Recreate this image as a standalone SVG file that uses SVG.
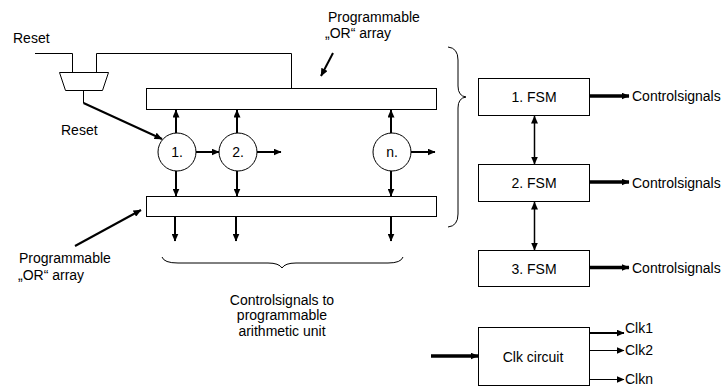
<svg xmlns="http://www.w3.org/2000/svg" width="724" height="390" viewBox="0 0 724 390">
  <style>
    text { font-family: "Liberation Sans", Arial, sans-serif; font-size: 14px; fill: #000; }
    .mid { text-anchor: middle; }
    .box { fill: #fff; stroke: #000; stroke-width: 1; }
    .wire { fill: none; stroke: #000; stroke-width: 1; }
    .arr { fill: none; stroke: #000; stroke-width: 2; marker-end: url(#ah); }
    .arr1 { fill: none; stroke: #000; stroke-width: 1; marker-end: url(#ah); }
    .thick { fill: none; stroke: #000; stroke-width: 3.5; marker-end: url(#ah); }
    .dbl { fill: none; stroke: #000; stroke-width: 1.5; marker-start: url(#ah); marker-end: url(#ah); }
    .brace { fill: none; stroke: #000; stroke-width: 1; }
  </style>
  <defs>
    <marker id="ah" markerUnits="userSpaceOnUse" markerWidth="8" markerHeight="7" refX="7.5" refY="3.5" orient="auto-start-reverse">
      <path d="M0,0 L8,3.5 L0,7 z" fill="#000"/>
    </marker>
  </defs>

  <rect width="724" height="390" fill="#fff"/>

  <!-- reset multiplexer -->
  <g id="mux">
    <polygon class="box" points="59.5,72.5 108.5,72.5 102.5,90.5 65.5,90.5"/>
  </g>

  <!-- programmable OR arrays -->
  <g id="or-array-top">
    <rect class="box" x="146.5" y="88.5" width="290" height="21"/>
  </g>
  <g id="or-array-bottom">
    <rect class="box" x="146.5" y="196.5" width="290" height="20"/>
  </g>

  <!-- state circles -->
  <g id="state-1">
    <circle class="box" cx="177" cy="152" r="19"/>
    <text class="mid" x="177" y="157">1.</text>
  </g>
  <g id="state-2">
    <circle class="box" cx="238" cy="152" r="19"/>
    <text class="mid" x="238" y="157">2.</text>
  </g>
  <g id="state-n">
    <circle class="box" cx="392" cy="152" r="19"/>
    <text class="mid" x="392" y="157">n.</text>
  </g>

  <!-- FSM blocks -->
  <g id="fsm-1">
    <rect class="box" x="478.5" y="78.5" width="111" height="37"/>
    <text class="mid" x="534" y="102">1. FSM</text>
  </g>
  <g id="fsm-2">
    <rect class="box" x="478.5" y="164.5" width="111" height="37"/>
    <text class="mid" x="534" y="188">2. FSM</text>
  </g>
  <g id="fsm-3">
    <rect class="box" x="478.5" y="250.5" width="111" height="36"/>
    <text class="mid" x="534" y="274">3. FSM</text>
  </g>

  <!-- clock generator -->
  <g id="clk-circuit">
    <rect class="box" x="478.5" y="327.5" width="111" height="58"/>
    <text class="mid" x="533" y="362">Clk circuit</text>
  </g>

  <!-- labels -->
  <g id="labels">
    <text x="13" y="43">Reset</text>
    <text x="61" y="135">Reset</text>
    <text x="328" y="22">Programmable</text>
    <text x="325" y="38">„OR“ array</text>
    <text x="19" y="263">Programmable</text>
    <text x="18" y="280">„OR“ array</text>
    <text class="mid" x="282" y="304.5">Controlsignals to</text>
    <text class="mid" x="282" y="320">programmable</text>
    <text class="mid" x="282" y="336">arithmetic unit</text>
    <text x="632" y="101">Controlsignals</text>
    <text x="632" y="188">Controlsignals</text>
    <text x="632" y="273">Controlsignals</text>
    <text x="625" y="333">Clk1</text>
    <text x="625" y="355">Clk2</text>
    <text x="625" y="384">Clkn</text>
  </g>

  <!-- connectors -->
  <g id="connectors">
    <!-- reset input and feedback into the mux -->
    <polyline class="wire" points="35,53.5 72.5,53.5 72.5,72.5"/>
    <polyline class="wire" points="96.5,72.5 96.5,53.5 291.5,53.5 291.5,88.5"/>
    <polyline class="wire" points="83.5,90.5 83.5,103"/>
    <line class="arr" x1="83.5" y1="103" x2="162" y2="139"/>

    <!-- OR-array pointers -->
    <line class="arr" x1="333" y1="53" x2="321" y2="76"/>
    <line class="arr" x1="75" y1="246" x2="141" y2="210"/>

    <!-- circles up into top array -->
    <line class="arr" x1="176" y1="133" x2="176" y2="110"/>
    <line class="arr" x1="237" y1="133" x2="237" y2="110"/>
    <line class="arr" x1="391" y1="133" x2="391" y2="110"/>

    <!-- circles down into bottom array -->
    <line class="arr" x1="176" y1="171" x2="176" y2="196"/>
    <line class="arr" x1="237" y1="171" x2="237" y2="196"/>
    <line class="arr" x1="391" y1="171" x2="391" y2="196"/>

    <!-- state transitions -->
    <line class="arr" x1="196" y1="152" x2="219" y2="152"/>
    <line class="arr" x1="257" y1="152" x2="281" y2="152"/>
    <line class="arr" x1="411" y1="152" x2="435" y2="152"/>

    <!-- outputs below bottom array -->
    <line class="arr" x1="175" y1="217" x2="175" y2="241"/>
    <line class="arr" x1="236" y1="217" x2="236" y2="241"/>
    <line class="arr" x1="391" y1="217" x2="391" y2="241"/>

    <!-- FSM outputs -->
    <line class="thick" x1="590" y1="96" x2="629" y2="96"/>
    <line class="thick" x1="590" y1="182" x2="629" y2="182"/>
    <line class="thick" x1="590" y1="267.5" x2="629" y2="267.5"/>

    <!-- FSM links -->
    <line class="dbl" x1="534.5" y1="116" x2="534.5" y2="164"/>
    <line class="dbl" x1="534.5" y1="202" x2="534.5" y2="250"/>

    <!-- clock in and out -->
    <line class="thick" x1="431" y1="356" x2="478" y2="356"/>
    <line class="arr" x1="590" y1="333" x2="624" y2="333"/>
    <line class="arr1" x1="590" y1="350.5" x2="624" y2="350.5"/>
    <line class="arr1" x1="590" y1="379.5" x2="624" y2="379.5"/>

    <!-- braces -->
    <path class="brace" d="M162,257 Q164,263 178,263 L268,263 Q279,263 282,268 Q285,263 296,263 L388,263 Q401,263 403,257"/>
    <path class="brace" d="M448,47 Q458,48 458,60 L458,86 Q458,96 466,97 Q458,98 458,108 L458,214 Q458,226 448,227"/>
  </g>
</svg>
